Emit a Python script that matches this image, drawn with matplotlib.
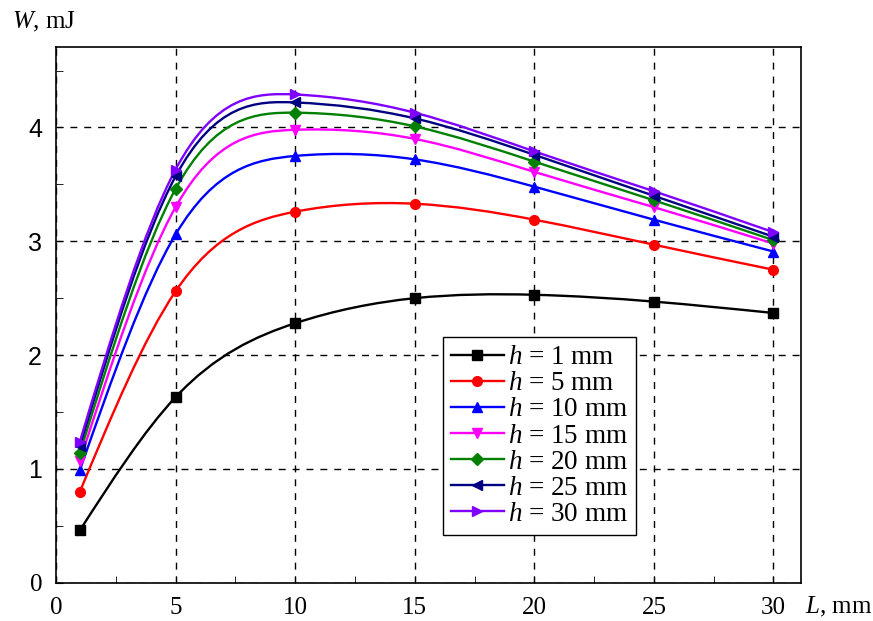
import numpy as np
import matplotlib
matplotlib.use("Agg")
import matplotlib.pyplot as plt
from matplotlib.path import Path
from matplotlib.patches import PathPatch
from matplotlib.lines import Line2D
from matplotlib.ticker import MultipleLocator

plt.rcParams['font.family'] = 'Liberation Serif'
plt.rcParams['mathtext.fontset'] = 'custom'
plt.rcParams['mathtext.rm'] = 'Liberation Serif'
plt.rcParams['mathtext.it'] = 'Liberation Serif:italic'

# data
L = [1, 5, 10, 15, 20, 25, 30]
W_h1 = [0.46, 1.63, 2.28, 2.50, 2.53, 2.47, 2.37]
W_h5 = [0.80, 2.56, 3.26, 3.33, 3.19, 2.97, 2.75]
W_h10 = [0.99, 3.06, 3.75, 3.72, 3.48, 3.19, 2.91]
W_h15 = [1.07, 3.30, 3.98, 3.90, 3.61, 3.30, 2.98]
W_h20 = [1.14, 3.46, 4.13, 4.01, 3.70, 3.36, 3.01]
W_h25 = [1.20, 3.57, 4.22, 4.08, 3.76, 3.40, 3.04]
W_h30 = [1.24, 3.63, 4.29, 4.13, 3.79, 3.44, 3.08]

series = [W_h1, W_h5, W_h10, W_h15, W_h20, W_h25, W_h30]
labels = ['$h$ = 1 mm', '$h$ = 5 mm', '$h$ = 10 mm', '$h$ = 15 mm',
          '$h$ = 20 mm', '$h$ = 25 mm', '$h$ = 30 mm']
colors = ['black', '#ff0000', '#0000ff', '#ff00ff', '#008000', '#000080', '#8000ff']
markers = ['s', 'o', '^', 'v', 'D', '<', '>']
msizes = [6.5, 7, 7.5, 7.5, 6, 7.5, 7.5]

x_ticks = [0, 5, 10, 15, 20, 25, 30]
x_tick_labels = ['0', '5', '10', '15', '20', '25', '30']
y_ticks = [0, 1, 2, 3, 4]
y_tick_labels = ['0', '1', '2', '3', '4']


def spline_path(xs, ys):
    # smooth line through the points (natural cubic spline as bezier segments)
    x = np.asarray(xs, float)
    y = np.asarray(ys, float)
    n = len(x)
    h = np.diff(x)
    A = np.zeros((n, n))
    b = np.zeros(n)
    A[0, 0] = A[-1, -1] = 1.0
    for i in range(1, n - 1):
        A[i, i - 1] = h[i - 1]
        A[i, i] = 2 * (h[i - 1] + h[i])
        A[i, i + 1] = h[i]
        b[i] = 6 * ((y[i + 1] - y[i]) / h[i] - (y[i] - y[i - 1]) / h[i - 1])
    M = np.linalg.solve(A, b)
    # first derivative at each knot
    m = np.zeros(n)
    for i in range(n - 1):
        m[i] = (y[i + 1] - y[i]) / h[i] - h[i] * (2 * M[i] + M[i + 1]) / 6
    m[-1] = (y[-1] - y[-2]) / h[-1] + h[-1] * (M[-2] + 2 * M[-1]) / 6
    verts = [(x[0], y[0])]
    codes = [Path.MOVETO]
    for i in range(n - 1):
        d = h[i] / 3
        verts += [(x[i] + d, y[i] + m[i] * d),
                  (x[i + 1] - d, y[i + 1] - m[i + 1] * d),
                  (x[i + 1], y[i + 1])]
        codes += [Path.CURVE4] * 3
    return Path(verts, codes)


fig = plt.figure(figsize=(8.73, 6.21), dpi=100)
ax = fig.add_axes([0.0641, 0.0617, 0.8534, 0.8631])

handles = []
for ys, lab, c, m, ms in zip(series, labels, colors, markers, msizes):
    ax.add_patch(PathPatch(spline_path(L, ys), fill=False, edgecolor=c, lw=1.7, zorder=3))
    ax.plot(L, ys, ls='none', marker=m, color=c, ms=ms, zorder=4)
    handles.append(Line2D([], [], color=c, lw=1.7, marker=m, ms=ms))

ax.set_xlim(0, 31.15)
ax.set_ylim(0, 4.71)
ax.set_xticks(x_ticks)
ax.set_xticklabels(x_tick_labels)
ax.set_yticks(y_ticks)
ax.set_yticklabels(y_tick_labels)
ax.xaxis.set_minor_locator(MultipleLocator(2.5))
ax.yaxis.set_minor_locator(MultipleLocator(0.5))
ax.tick_params(which='both', direction='in', labelsize=18, pad=10, top=False, right=False)
ax.tick_params(which='major', length=5)
ax.tick_params(which='minor', length=5)
for t in ax.get_yticklabels():
    if t.get_text() != '0':
        t.set_family('Liberation Sans')

ax.grid(True, which='major', color='black', ls=(0, (5, 5)), lw=1.0)
for s in ax.spines.values():
    s.set_linewidth(1.2)

leg = ax.legend(handles, labels, loc='upper left', bbox_to_anchor=(0.519, 0.458),
                borderaxespad=0, fontsize=19.5, frameon=True, fancybox=False,
                edgecolor='black', framealpha=1, labelspacing=0.04,
                handlelength=1.95, handletextpad=0.15, borderpad=0.3)
leg.get_frame().set_linewidth(1.0)

fig.text(0.014, 0.965, '$W$, mJ', fontsize=18, va='center', ha='left')
fig.text(0.922, 0.022, '$L$, mm', fontsize=18, va='center', ha='left')

fig.savefig('out.png', dpi=100)
